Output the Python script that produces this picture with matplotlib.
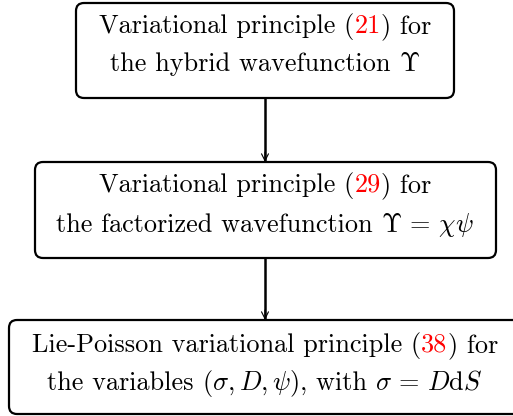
import matplotlib
matplotlib.use("Agg")
import matplotlib.pyplot as plt
from matplotlib.patches import FancyBboxPatch

plt.rcParams['font.family'] = 'serif'
plt.rcParams['font.serif'] = ['cmr10']
plt.rcParams['mathtext.fontset'] = 'cm'

W, H = 513, 416
FS = 18.9
RED = '#ff0000'

# each box: (left, top, right, bottom), lines as lists of (text, colour)
boxes = [
    (76, 3, 454, 98),
    (35, 162, 496, 258),
    (9, 320, 521, 414),
]
box_lines = [
    [[("Variational principle (", 'k'), ("21", RED), (") for", 'k')],
     [("the hybrid wavefunction ", 'k'), (r"$\Upsilon$", 'k')]],
    [[("Variational principle (", 'k'), ("29", RED), (") for", 'k')],
     [("the factorized wavefunction ", 'k'), (r"$\Upsilon\, =\, \chi\psi$", 'k')]],
    [[("Lie-Poisson variational principle (", 'k'), ("38", RED), (") for", 'k')],
     [("the variables ", 'k'), (r"$(\sigma, D, \psi)$", 'k'), (", with ", 'k'),
      (r"$\sigma\, =\, D\mathrm{d}S$", 'k')]],
]
baselines = [(33, 71), (192, 232), (352, 390)]
arrow_x = 265

fig = plt.figure(figsize=(W / 100, H / 100), dpi=100)
ax = fig.add_axes([0, 0, 1, 1])
ax.set_xlim(0, W)
ax.set_ylim(H, 0)
ax.axis('off')

for (l, t, r, b) in boxes:
    ax.add_patch(FancyBboxPatch((l, t), r - l, b - t,
                                boxstyle="round,pad=0,rounding_size=8",
                                fc='white', ec='black', lw=1.6))

fig.canvas.draw()
renderer = fig.canvas.get_renderer()


def draw_line(segments, cx, y):
    texts = [ax.text(0, y, s, color=c, fontsize=FS, va='baseline', ha='left')
             for s, c in segments]
    widths = [t.get_window_extent(renderer).width for t in texts]
    x = cx - sum(widths) / 2
    for t, w in zip(texts, widths):
        t.set_x(x)
        x += w


for lines, ys in zip(box_lines, baselines):
    for segs, y in zip(lines, ys):
        draw_line(segs, arrow_x, y)

# connecting arrows
for upper, lower in zip(boxes[:-1], boxes[1:]):
    y0, y1 = upper[3], lower[1]
    ax.plot([arrow_x, arrow_x], [y0, y1], color='black', lw=1.8, solid_capstyle='butt')
    ax.annotate('', xy=(arrow_x, y1), xytext=(arrow_x, y1 - 10),
                arrowprops=dict(arrowstyle='->,head_length=0.5,head_width=0.25',
                                lw=0.8, color='black', shrinkA=0, shrinkB=0))

fig.savefig('out.png', dpi=100)
